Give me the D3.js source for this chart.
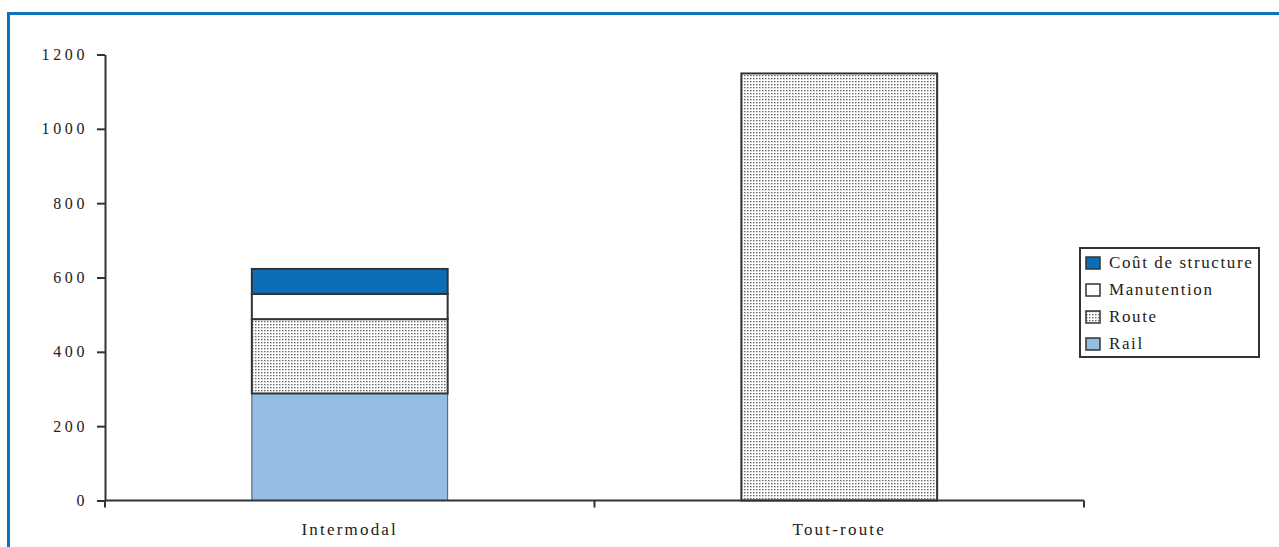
<!DOCTYPE html>
<html>
<head>
<meta charset="utf-8">
<script src="https://cdn.jsdelivr.net/npm/d3@7"></script>
<style>
  html, body { margin: 0; padding: 0; background: #fff; overflow: hidden; }
  svg { display: block; }
</style>
</head>
<body>
<div id="chart"></div>
<script>
// Data
const categories = ["Intermodal", "Tout-route"];
const seriesNames = ["Rail", "Route", "Manutention", "Coût de structure"];
const rail = [288, 0];
const route = [200, 1149];
const manutention = [68, 0];
const structure = [67, 0];
const yTicks = [0, 200, 400, 600, 800, 1000, 1200];

const width = 1279;
const height = 547;
const margin = { top: 54.5, right: 195, bottom: 46.5, left: 105 };
const serif = "'Liberation Serif', 'Times New Roman', Times, serif";

const rows = categories.map((c, i) => ({
  category: c,
  "Rail": rail[i],
  "Route": route[i],
  "Manutention": manutention[i],
  "Coût de structure": structure[i]
}));

const stack = d3.stack().keys(seriesNames);
const stacked = stack(rows);

const fills = {
  "Rail": "#93bde3",
  "Route": "url(#dots)",
  "Manutention": "#ffffff",
  "Coût de structure": "#0a6fb8"
};
const strokes = {
  "Rail": "#555",
  "Route": "#333",
  "Manutention": "#333",
  "Coût de structure": "#333"
};

const svg = d3.select("#chart")
  .append("svg")
  .attr("width", width)
  .attr("height", height);

// dotted fill used for "Route"
const defs = svg.append("defs");
const pat = defs.append("pattern")
  .attr("id", "dots")
  .attr("patternUnits", "userSpaceOnUse")
  .attr("width", 3)
  .attr("height", 3);
pat.append("rect").attr("width", 3).attr("height", 3).attr("fill", "#fff");
pat.append("rect").attr("x", 0).attr("y", 0).attr("width", 1.5).attr("height", 1.3).attr("fill", "#666");

// blue frame
svg.append("path")
  .attr("d", `M${8.5},${height + 5} L${8.5},${13.5} L${width + 5},${13.5}`)
  .attr("fill", "none")
  .attr("stroke", "#0a74bd")
  .attr("stroke-width", 3);

const x = d3.scaleBand()
  .domain(categories)
  .range([margin.left, width - margin.right])
  .paddingInner(0.6)
  .paddingOuter(0.3);

const xTicksScale = d3.scaleBand()
  .domain(categories)
  .range([margin.left, width - margin.right])
  .padding(0);

const y = d3.scaleLinear()
  .domain([0, 1200])
  .range([height - margin.bottom, margin.top]);

// bars
svg.append("g")
  .selectAll("g")
  .data(stacked)
  .join("g")
  .selectAll("rect")
  .data(s => s.map(d => ({ key: s.key, d })))
  .join("rect")
  .filter(o => o.d[1] - o.d[0] > 0)
  .attr("x", o => x(o.d.data.category))
  .attr("y", o => y(o.d[1]))
  .attr("width", x.bandwidth())
  .attr("height", o => y(o.d[0]) - y(o.d[1]))
  .attr("fill", o => fills[o.key])
  .attr("stroke", o => strokes[o.key])
  .attr("stroke-width", o => o.key === "Rail" ? 1 : 2);

// y axis
const yAxis = svg.append("g")
  .attr("transform", `translate(${margin.left},0)`)
  .call(d3.axisLeft(y).tickValues(yTicks).tickFormat(d3.format("d"))
    .tickSize(8).tickSizeOuter(0).tickPadding(9));
yAxis.select(".domain").attr("stroke", "#333").attr("stroke-width", 2);
yAxis.selectAll(".tick line").attr("stroke", "#333").attr("stroke-width", 2);
yAxis.selectAll(".tick text")
  .attr("font-family", serif)
  .attr("font-size", 16)
  .attr("fill", "#222")
  .attr("letter-spacing", "3.6px");

// x axis with ticks between categories
const xAxisG = svg.append("g")
  .attr("transform", `translate(0,${y(0)})`);
xAxisG.append("line")
  .attr("x1", margin.left).attr("x2", width - margin.right)
  .attr("stroke", "#333").attr("stroke-width", 2);
const edges = categories.map(c => xTicksScale(c)).concat([xTicksScale.range()[1]]);
xAxisG.selectAll("line.xt")
  .data(edges)
  .join("line")
  .attr("class", "xt")
  .attr("x1", d => d).attr("x2", d => d)
  .attr("y1", 0).attr("y2", 7)
  .attr("stroke", "#333").attr("stroke-width", 2);
xAxisG.selectAll("text")
  .data(categories)
  .join("text")
  .attr("x", d => xTicksScale(d) + xTicksScale.bandwidth() / 2)
  .attr("y", 34)
  .attr("text-anchor", "middle")
  .attr("font-family", serif)
  .attr("font-size", 17)
  .attr("fill", "#222")
  .attr("letter-spacing", "2.2px")
  .text(d => d);

// legend
const legend = svg.append("g").attr("transform", "translate(1080,248)");
legend.append("rect")
  .attr("width", 179).attr("height", 109)
  .attr("fill", "#fff").attr("stroke", "#333").attr("stroke-width", 2);
const legendOrder = seriesNames.slice().reverse();
const li = legend.selectAll("g.item")
  .data(legendOrder)
  .join("g")
  .attr("class", "item")
  .attr("transform", (d, i) => `translate(6,${15 + i * 27})`);
li.append("rect")
  .attr("y", -6).attr("width", 14).attr("height", 12)
  .attr("fill", d => fills[d])
  .attr("stroke", "#333").attr("stroke-width", 1.5);
li.append("text")
  .attr("x", 23).attr("y", 5)
  .attr("font-family", serif)
  .attr("font-size", 17)
  .attr("fill", "#222")
  .attr("letter-spacing", "1.6px")
  .text(d => d);
</script>
</body>
</html>
